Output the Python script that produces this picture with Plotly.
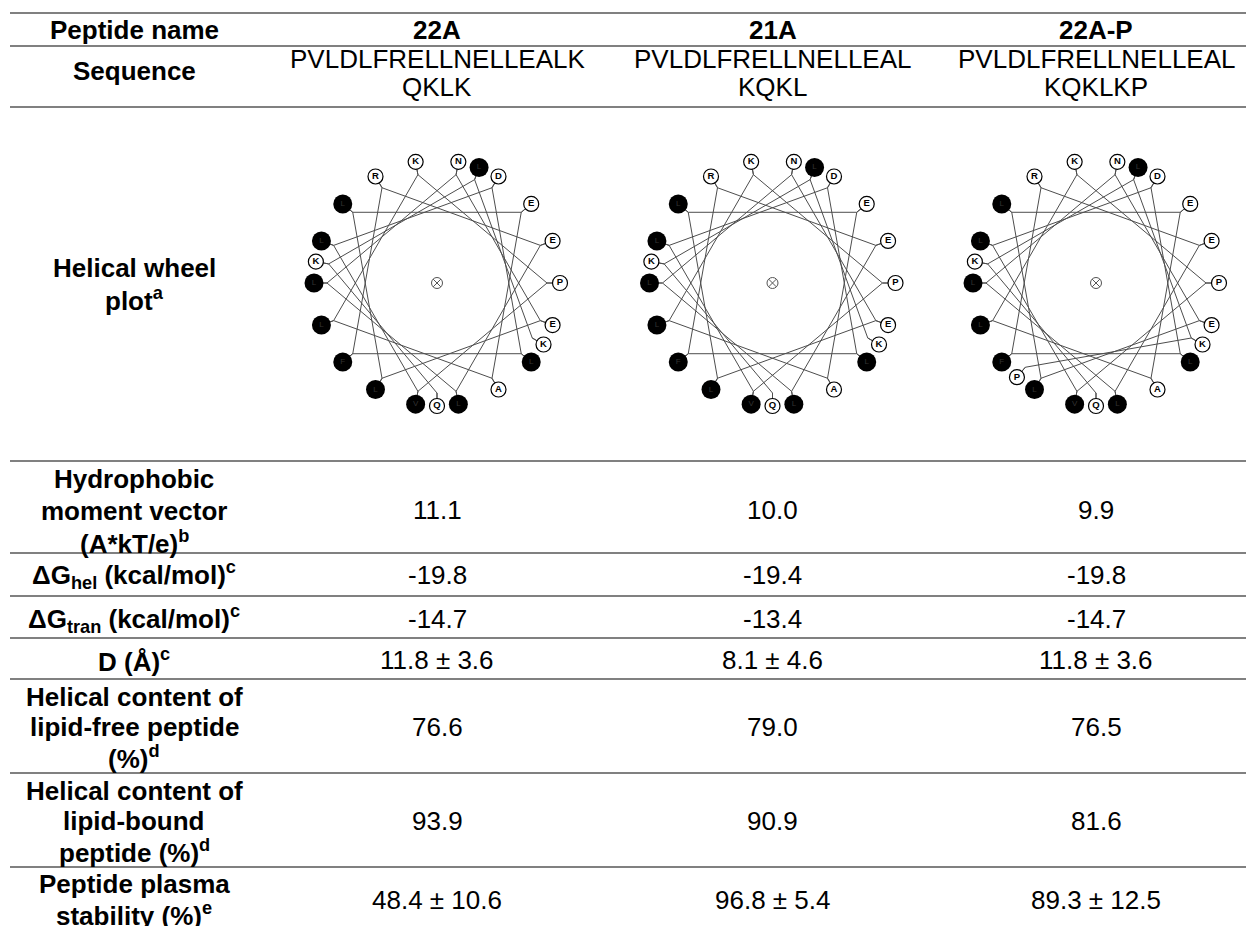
import math
import plotly.graph_objects as go

# ---- table content -------------------------------------------------------
PEPTIDES = ["22A", "21A", "22A-P"]
SEQUENCES = ["PVLDLFRELLNELLEALKQKLK", "PVLDLFRELLNELLEALKQKL", "PVLDLFRELLNELLEALKQKLKP"]
SEQ_WRAP = [18, 17, 17]
WHEEL_RESIDUES = ["PVLDLFRELLNELLEALKQKLK", "PVLDLFRELLNELLEALKQKLK", "PVLDLFRELLNELLEALKQKLKP"]
HYDROPHOBIC = set("LVFIMW")

MOMENT = [11.1, 10.0, 9.9]
DG_HEL = [-19.8, -19.4, -19.8]
DG_TRAN = [-14.7, -13.4, -14.7]
D_MEAN = [11.8, 8.1, 11.8]
D_SD = [3.6, 4.6, 3.6]
HELIX_FREE = [76.6, 79.0, 76.5]
HELIX_BOUND = [93.9, 90.9, 81.6]
PLASMA_MEAN = [48.4, 96.8, 89.3]
PLASMA_SD = [10.6, 5.4, 12.5]

ROW_LABELS = [
    ["Peptide name"],
    ["Sequence"],
    ["Helical wheel", "plot<sup>a</sup>"],
    ["Hydrophobic", "moment vector", "(A*kT/e)<sup>b</sup>"],
    ["ΔG<sub>hel</sub> (kcal/mol)<sup>c</sup>"],
    ["ΔG<sub>tran</sub> (kcal/mol)<sup>c</sup>"],
    ["D (Å)<sup>c</sup>"],
    ["Helical content of", "lipid-free peptide", "(%)<sup>d</sup>"],
    ["Helical content of", "lipid-bound", "peptide (%)<sup>d</sup>"],
    ["Peptide plasma", "stability (%)<sup>e</sup>"],
]

# ---- page geometry (pixels) ---------------------------------------------
W, H = 1248, 926
FONT = "Liberation Sans, Arial, sans-serif"
FS = 26
LABEL_X = 134
COL_X = [437, 772.5, 1096]
RULES_Y = [13, 46, 107, 461, 553, 596, 638, 679, 773, 867]
LABEL_Y = [[30], [71], [268, 299], [479, 510.5, 542], [575], [619], [660],
           [697, 727, 757], [790.5, 821, 851.5], [884, 914]]
WHEEL_Y = 283
R_POS, R_ANCHOR = 123, 110
TURN = 18  # residues per full set of wheel positions

fig = go.Figure()
annotations = []
shapes = []


def text(x, y, s, bold=False, size=FS):
    if bold:
        s = f"<b>{s}</b>"
    annotations.append(dict(x=x, y=y, xref="x", yref="y", text=s, showarrow=False,
                            xanchor="center", yanchor="middle",
                            font=dict(family=FONT, size=size, color="black")))


# horizontal rules
for y in RULES_Y:
    shapes.append(dict(type="line", xref="x", yref="y", x0=10, x1=1246, y0=y, y1=y,
                       line=dict(color="#808080", width=2)))

# row labels
for lines, ys in zip(ROW_LABELS, LABEL_Y):
    for s, y in zip(lines, ys):
        text(LABEL_X, y, s, bold=True)

# header and data cells
values = [
    [f"{v:.1f}" for v in MOMENT],
    [f"{v:.1f}" for v in DG_HEL],
    [f"{v:.1f}" for v in DG_TRAN],
    [f"{m:.1f} ± {s:.1f}" for m, s in zip(D_MEAN, D_SD)],
    [f"{v:.1f}" for v in HELIX_FREE],
    [f"{v:.1f}" for v in HELIX_BOUND],
    [f"{m:.1f} ± {s:.1f}" for m, s in zip(PLASMA_MEAN, PLASMA_SD)],
]
VALUE_Y = [510, 575, 619, 660, 727, 821, 900]

for j, cx in enumerate(COL_X):
    text(cx, 30, PEPTIDES[j], bold=True)
    seq = SEQUENCES[j]
    text(cx, 58.5, seq[:SEQ_WRAP[j]])
    text(cx, 87, seq[SEQ_WRAP[j]:])
    for vals, y in zip(values, VALUE_Y):
        text(cx, y, vals[j])


# helical wheels: 100 degrees per residue, clockwise from residue 1 at 0 deg;
# residues past the first 18 skip the occupied slot and sit 10 deg aside
def ideal_angle(i):
    return -100.0 * i


def wheel_angle(i):
    if i < TURN:
        return ideal_angle(i)
    return ideal_angle(i + 1) + 10.0


def polar(cx, r, deg):
    a = math.radians(deg)
    return cx + r * math.cos(a), WHEEL_Y - r * math.sin(a)


for j, cx in enumerate(COL_X):
    residues = WHEEL_RESIDUES[j]
    lx, ly = [], []
    for i, res in enumerate(residues):
        if i == TURN:
            # first set closes on the ideal position of the next residue
            ex, ey = polar(cx, R_ANCHOR, ideal_angle(i))
            lx += [ex, None]
            ly += [ey, None]
        ang = wheel_angle(i)
        ax_, ay_ = polar(cx, R_ANCHOR, ang)
        px, py = polar(cx, R_POS, ang)
        lx += [ax_, px, ax_]
        ly += [ay_, py, ay_]
    fig.add_trace(go.Scatter(x=lx, y=ly, mode="lines", hoverinfo="skip", connectgaps=False,
                             line=dict(color="#4d4d4d", width=1), showlegend=False))

    fx, fy, ft, ox, oy, ot = [], [], [], [], [], []
    for i, res in enumerate(residues):
        px, py = polar(cx, R_POS, wheel_angle(i))
        if res in HYDROPHOBIC:
            fx.append(px); fy.append(py); ft.append(res)
        else:
            ox.append(px); oy.append(py); ot.append(res)
    fig.add_trace(go.Scatter(x=fx, y=fy, mode="markers+text", text=ft,
                             textposition="middle center", hoverinfo="skip",
                             marker=dict(size=19, color="black", line=dict(width=0)),
                             textfont=dict(family=FONT, size=8, color="#333333"),
                             showlegend=False))
    fig.add_trace(go.Scatter(x=ox, y=oy, mode="markers+text", text=[f"<b>{t}</b>" for t in ot],
                             textposition="middle center", hoverinfo="skip",
                             marker=dict(size=15, color="white", line=dict(width=1.2, color="black")),
                             textfont=dict(family=FONT, size=9.5, color="black"),
                             showlegend=False))
    fig.add_trace(go.Scatter(x=[cx], y=[WHEEL_Y], mode="markers", hoverinfo="skip",
                             marker=dict(symbol="circle-x-open", size=11, color="#555555",
                                         line=dict(width=1)),
                             showlegend=False))

fig.update_layout(
    width=W, height=H,
    margin=dict(l=0, r=0, t=0, b=0),
    paper_bgcolor="white", plot_bgcolor="white",
    xaxis=dict(range=[0, W], visible=False, fixedrange=True),
    yaxis=dict(range=[H, 0], visible=False, fixedrange=True),
    annotations=annotations, shapes=shapes,
)

fig.write_html("out.html", config={"displayModeBar": False})
